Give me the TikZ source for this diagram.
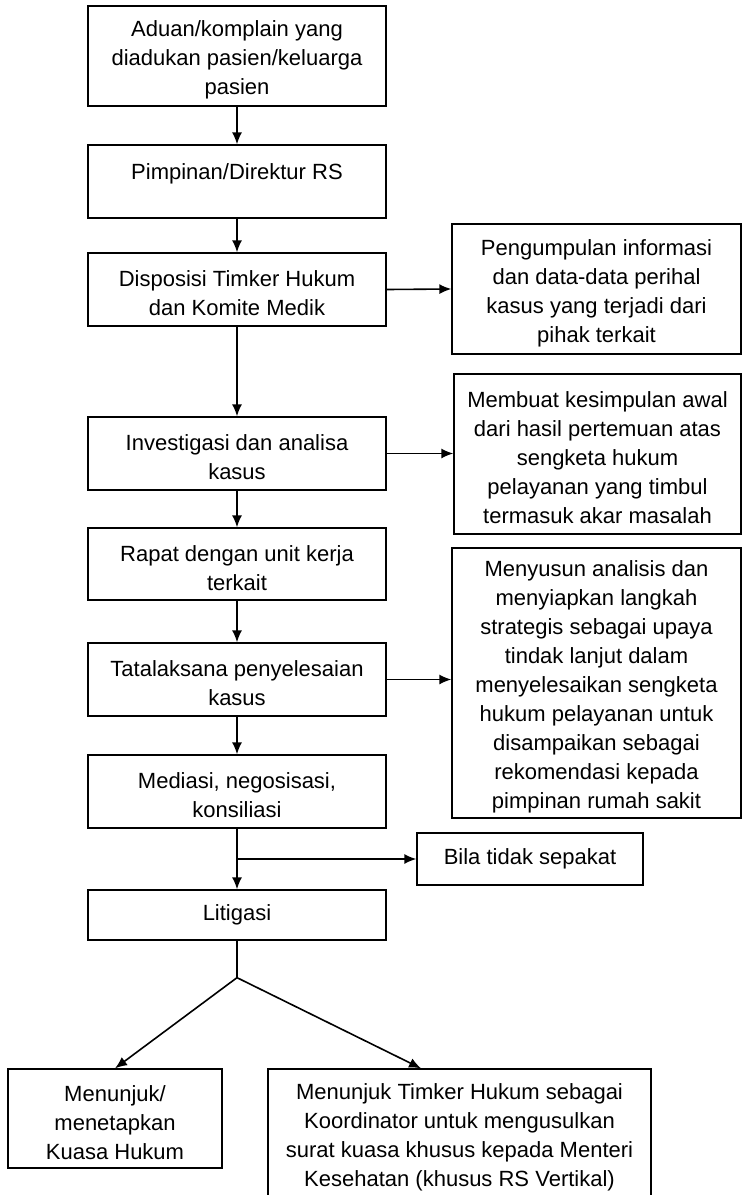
\documentclass[tikz,border=0pt]{standalone}
\usepackage{fontspec}
\setmainfont{Liberation Sans}
\usepackage{tikz}
\usetikzlibrary{calc, arrows.meta, positioning}
\tikzset{>={Latex[length=12pt, width=10pt]}}
\newcommand{\atas}{\rule{0pt}{24pt}}

\begin{document}
\begin{tikzpicture}[
    x = 1pt, y = -1pt,
    box/.style = {draw, line width = 1.3pt, align = center, inner sep = 0pt, minimum width = 298pt,
                  font = \fontsize{22}{29}\selectfont},
    arr/.style = {->, line width = 1.6pt},
    ln/.style = {line width = 1.6pt}
]
\useasboundingbox (0,0) rectangle (743,1195);

\node[box, minimum height = 100pt] (adu) at (237,56) {\atas Aduan/komplain yang\\ diadukan pasien/keluarga\\ pasien};
\node[box, minimum height = 73pt] (dir) at (237,181.5) {\atas Pimpinan/Direktur RS\\ ~};
\node[box, minimum height = 73pt] (disp) at (237,289.5) {\atas Disposisi Timker Hukum\\ dan Komite Medik};
\node[box, minimum height = 73pt] (inv) at (237,453.5) {\atas Investigasi dan analisa\\ kasus};
\node[box, minimum height = 72pt] (rapat) at (237,564) {\atas Rapat dengan unit kerja\\ terkait};
\node[box, minimum height = 73pt] (tata) at (237,679.5) {\atas Tatalaksana penyelesaian\\ kasus};
\node[box, minimum height = 73pt] (med) at (237,791.5) {\atas Mediasi, negosisasi,\\ konsiliasi};
\node[box, minimum height = 50pt] (lit) at (237,915) {Litigasi};

\node[box, minimum width = 289pt, minimum height = 130pt] (info) at (596.5,289) {\atas Pengumpulan informasi\\ dan data-data perihal\\ kasus yang terjadi dari\\ pihak terkait};
\node[box, minimum width = 287pt, minimum height = 160pt] (simp) at (597.5,454) {\atas Membuat kesimpulan awal\\ dari hasil pertemuan atas\\ sengketa hukum\\ pelayanan yang timbul\\ termasuk akar masalah};
\node[box, minimum width = 289pt, minimum height = 270pt] (anal) at (596.5,683) {\atas Menyusun analisis dan\\ menyiapkan langkah\\ strategis sebagai upaya\\ tindak lanjut dalam\\ menyelesaikan sengketa\\ hukum pelayanan untuk\\ disampaikan sebagai\\ rekomendasi kepada\\ pimpinan rumah sakit};
\node[box, minimum width = 226pt, minimum height = 52pt] (bila) at (530,859) {Bila tidak sepakat};

\node[box, minimum width = 214pt, minimum height = 99pt] (kuasa) at (115,1118.5) {\atas Menunjuk/\\ menetapkan\\ Kuasa Hukum};
\node[box, minimum width = 383pt, minimum height = 129pt] (timker) at (459.5,1133.5) {\atas Menunjuk Timker Hukum sebagai\\ Koordinator untuk mengusulkan\\ surat kuasa khusus kepada Menteri\\ Kesehatan (khusus RS Vertikal)};

\draw[arr] (adu.south) -- (dir.north);
\draw[arr] (dir.south) -- (disp.north);
\draw[arr] (disp.south) -- (inv.north);
\draw[arr] (inv.south) -- (rapat.north);
\draw[arr] (rapat.south) -- (tata.north);
\draw[arr] (tata.south) -- (med.north);
\draw[arr] (med.south) -- (lit.north);

\draw[arr] (disp.east) -- (info.west);
\draw[arr] (inv.east) -- (inv.east -| simp.west);
\draw[arr] (tata.east) -- (tata.east -| anal.west);
\draw[arr] (med.south |- bila.west) -- (bila.west);

\coordinate (pisah) at ($(lit.south)+(0,37)$);
\coordinate (kena) at ($(timker.north west)!0.4!(timker.north east)$);
\draw[ln] (lit.south) -- (pisah);
\draw[arr] (pisah) -- (kuasa.north);
\draw[arr] (pisah) -- (kena);

\end{tikzpicture}
\end{document}
